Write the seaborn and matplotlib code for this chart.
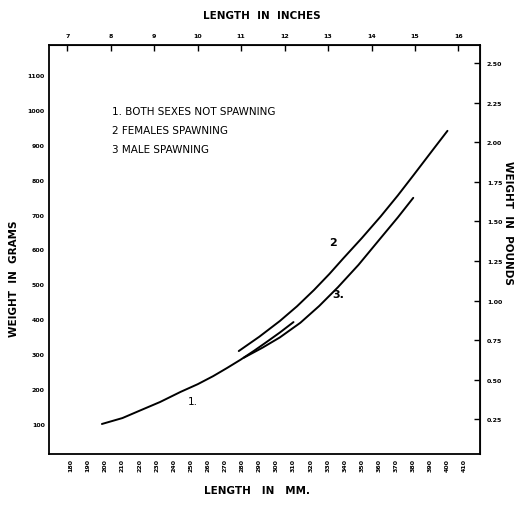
import matplotlib
matplotlib.use("Agg")
import matplotlib.pyplot as plt
import seaborn as sns
import pandas as pd

# curve 1 - both sexes not spawning
len_1 = [198, 210, 220, 232, 244, 254, 263, 271, 279, 287, 294, 302, 310]
wt_1 = [100, 117, 138, 163, 192, 214, 237, 260, 284, 310, 334, 362, 392]
# curve 2 - females spawning
len_2 = [278, 290, 302, 312, 322, 331, 339, 350, 361, 371, 380, 392, 400]
wt_2 = [309, 350, 395, 437, 484, 530, 574, 633, 695, 755, 812, 889, 940]
# curve 3 - male spawning
len_3 = [281, 292, 302, 314, 325, 336, 348, 361, 371, 380]
wt_3 = [290, 319, 348, 390, 438, 492, 556, 633, 692, 748]

mm_ticks = list(range(180, 411, 10))
inch_ticks = [7, 8, 9, 10, 11, 12, 13, 14, 15, 16]
gram_ticks = [100, 200, 300, 400, 500, 600, 700, 800, 900, 1000, 1100]
pound_ticks = [0.25, 0.50, 0.75, 1.00, 1.25, 1.50, 1.75, 2.00, 2.25, 2.50]

legend_lines = ["1. BOTH SEXES NOT SPAWNING", "2 FEMALES SPAWNING", "3 MALE SPAWNING"]

df = pd.concat([
    pd.DataFrame({"length_mm": len_1, "weight_g": wt_1, "curve": "1"}),
    pd.DataFrame({"length_mm": len_2, "weight_g": wt_2, "curve": "2"}),
    pd.DataFrame({"length_mm": len_3, "weight_g": wt_3, "curve": "3"}),
])

sns.set_style("white")
plt.rcParams['font.family'] = ['DejaVu Sans']
plt.rcParams['text.color'] = 'black'
plt.rcParams['xtick.color'] = 'black'
plt.rcParams['ytick.color'] = 'black'

fig = plt.figure(figsize=(5.2, 5.06), dpi=100)
ax = fig.add_axes([0.094, 0.1008, 0.829, 0.8083])

sns.lineplot(data=df, x="length_mm", y="weight_g", hue="curve",
             palette=["black", "black", "black"], legend=False, sort=False,
             estimator=None, linewidth=1.4, ax=ax)

ax.set_xlim(167, 419)
ax.set_ylim(14, 1186)
ax.set_xlabel("")
ax.set_ylabel("")

for s in ax.spines.values():
    s.set_linewidth(1.3)
    s.set_color("black")

ax.set_xticks(mm_ticks)
ax.set_xticklabels([str(v) for v in mm_ticks], rotation=90, fontsize=4.5, fontweight="bold")
ax.set_yticks(gram_ticks)
ax.set_yticklabels([str(v) for v in gram_ticks], fontsize=4.5, fontweight="bold")
ax.tick_params(direction="in", length=4, width=1, pad=3, color="black")

# inches on top
secx = ax.secondary_xaxis("top", functions=(lambda m: m / 25.4, lambda i: i * 25.4))
secx.set_xticks(inch_ticks)
secx.set_xticklabels([str(v) for v in inch_ticks], fontsize=4.5, fontweight="bold")
secx.tick_params(direction="in", length=4, width=1, pad=5)

# pounds on the right
secy = ax.secondary_yaxis("right", functions=(lambda g: g / 453.6, lambda p: p * 453.6))
secy.set_yticks(pound_ticks)
secy.set_yticklabels([f"{v:.2f}" for v in pound_ticks], fontsize=4.5, fontweight="bold")
secy.tick_params(direction="in", length=4, width=1, pad=5)

# key text
for i, t in enumerate(legend_lines):
    ax.text(204, 997 - i * 55, t, fontsize=7.5, va="center", ha="left", color="black")

# curve numbers
ax.text(251, 166, "1.", fontsize=7.5, ha="center", va="center", color="black")
ax.text(333, 621, "2", fontsize=8, fontweight="bold", ha="center", va="center", color="black")
ax.text(336, 472, "3.", fontsize=8, fontweight="bold", ha="center", va="center", color="black")

fig.text(0.504, 0.968, "LENGTH  IN  INCHES", fontsize=7.5, fontweight="bold", ha="center", va="center")
fig.text(0.494, 0.03, "LENGTH   IN   MM.", fontsize=7.5, fontweight="bold", ha="center", va="center")
fig.text(0.027, 0.45, "WEIGHT  IN  GRAMS", fontsize=7.5, fontweight="bold", rotation=90, ha="center", va="center")
fig.text(0.977, 0.56, "WEIGHT  IN  POUNDS", fontsize=7.5, fontweight="bold", rotation=270, ha="center", va="center")

fig.savefig("out.png", dpi=100)
